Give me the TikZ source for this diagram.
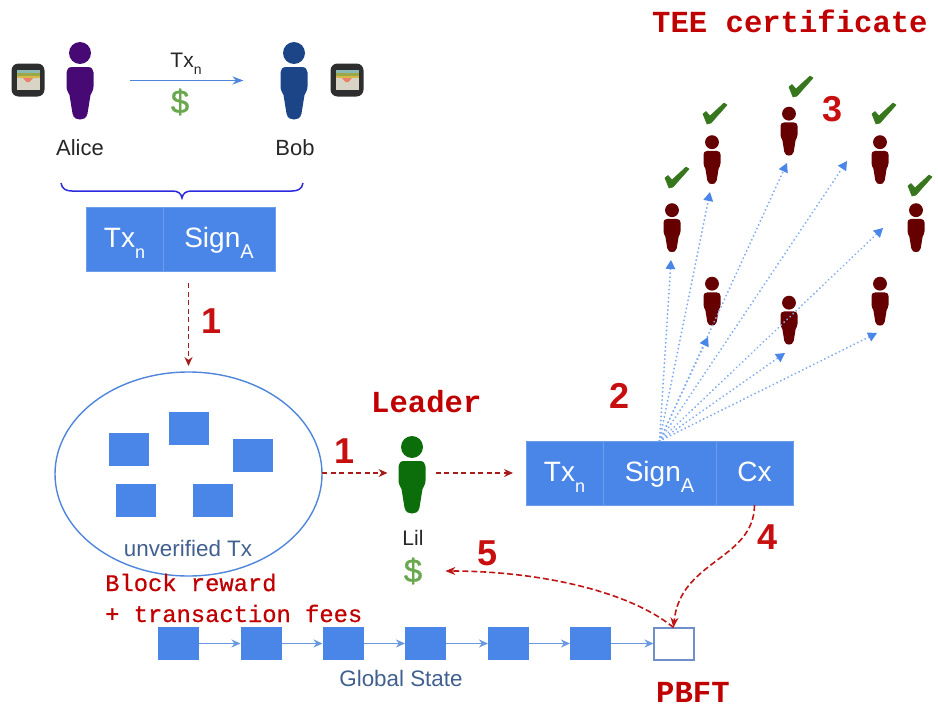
\documentclass[tikz,border=0pt]{standalone}
\usepackage{fontspec}
\setmainfont{Liberation Sans}
\setmonofont{Liberation Mono}
\newfontfamily\monosemi[FakeBold=0.6]{Liberation Mono}
\newfontfamily\sanssemi[FakeBold=0.8]{Liberation Sans}
\usetikzlibrary{arrows.meta,shapes.geometric}
\definecolor{boxblue}{HTML}{4A86E8}
\definecolor{cellline}{HTML}{6D9EEB}
\definecolor{linkblue}{HTML}{4F86DC}
\definecolor{greyblue}{HTML}{41608F}
\definecolor{redtext}{HTML}{C00000}
\definecolor{stepred}{HTML}{C80F0F}
\definecolor{dashred}{HTML}{A61C1C}
\definecolor{dollargreen}{HTML}{6AA84F}
\definecolor{tickgreen}{HTML}{38761D}
\definecolor{alicecol}{HTML}{470A75}
\definecolor{bobcol}{HTML}{1C4587}
\definecolor{lilcol}{HTML}{0B6E0B}
\definecolor{certcol}{HTML}{660000}
\definecolor{bracecol}{HTML}{2B2BDD}
\definecolor{walletframe}{HTML}{2E2E2E}
\definecolor{walletbeige}{HTML}{D9D5C6}
\definecolor{walletteal}{HTML}{8DB9B2}
\definecolor{walletgreen}{HTML}{9AA84A}
\definecolor{walletyellow}{HTML}{D8B84A}
\definecolor{walletred}{HTML}{E8806A}
\definecolor{openedge}{HTML}{6F8FC8}
\newcommand\fsz[1]{\fontsize{#1}{#1}\selectfont}
\newcommand\lowered[3]{\smash{\raisebox{-#2pt}{\fsz{#1}#3}}}
\newcommand\persona[5]{%
  \node[personbox,minimum width=#4*27pt,minimum height=#4*77pt] (#1) at (#2,#3) {};
  \begin{scope}[shift={(#2,#3)},scale=#4]
    \fill[#5] (0,-27.5) circle[radius=11];
    \fill[#5] (-8,-13.5) -- (8,-13.5) .. controls (11.5,-13.5) and (13.5,-11) .. (13.5,-8)
      -- (13.5,6) .. controls (13.5,10) and (11.5,12) .. (10.5,14.5)
      -- (7.5,33) .. controls (6.5,38) and (3,39) .. (0,39)
      .. controls (-3,39) and (-6.5,38) .. (-7.5,33)
      -- (-10.5,14.5) .. controls (-11.5,12) and (-13.5,10) .. (-13.5,6)
      -- (-13.5,-8) .. controls (-13.5,-11) and (-11.5,-13.5) .. (-8,-13.5) -- cycle;
  \end{scope}}
\newcommand\walleticon[3]{%
  \node[walletbox] (#1) at (#2,#3) {};
  \begin{scope}[shift={(#2,#3)}]
    \fill[walletbeige] (-11.5,-3) rectangle (11.5,10);
    \fill[walletteal] (-11.5,-10) rectangle (11.5,-7);
    \fill[walletgreen] (-11.5,-7) rectangle (11.5,-4.5);
    \fill[walletyellow] (-11.5,-4.5) rectangle (11.5,-2);
    \fill[walletred] (-5,-2) -- (5,-2) -- (1.5,2) -- (-1.5,2) -- cycle;
  \end{scope}}
\newcommand\tickmark[2]{%
  \begin{scope}[shift={(#1,#2)}]
    \filldraw[tickgreen,line width=.6pt,line join=round] (0,11) -- (3,8.5) -- (7,13) -- (21,0) -- (24,2) -- (8,20) -- (4,21) -- cycle;
  \end{scope}}
\tikzset{
  personbox/.style={inner sep=0pt,outer sep=0pt},
  walletbox/.style={fill=walletframe,rounded corners=7pt,minimum width=33pt,minimum height=33pt,inner sep=0pt,outer sep=0pt},
  cell/.style={fill=boxblue,draw=cellline,line width=.5pt,text=white,inner sep=0pt,outer sep=0pt,minimum height=64pt,text height=21pt,text depth=3.6pt,font=\fsz{28}},
  txsquare/.style={fill=boxblue,inner sep=0pt,outer sep=0pt,minimum width=40pt,minimum height=33pt},
  blocksquare/.style={fill=boxblue,inner sep=0pt,outer sep=0pt,minimum width=41pt,minimum height=33pt},
  openblock/.style={fill=white,draw=openedge,line width=2pt,inner sep=0pt,outer sep=0pt,minimum width=40pt,minimum height=32pt},
  pool/.style={ellipse,draw=linkblue,line width=1.4pt,inner sep=0pt,outer sep=0pt,minimum width=267pt,minimum height=204pt},
  grey label/.style={text=greyblue,font=\fsz{22.4},inner sep=0pt},
  black label/.style={text=black!85,font=\fsz{22},inner sep=0pt},
  stepnum/.style={text=stepred,font=\fsz{36}\bfseries,inner sep=0pt},
  dollar/.style={text=dollargreen,font=\fsz{33}\sanssemi,inner sep=0pt},
  monolabel/.style={text=redtext,font=\fsz{30.6}\ttfamily\bfseries,inner sep=0pt,anchor=base west},
  monosmall/.style={text=redtext,font=\fsz{23.8}\monosemi,inner sep=0pt,anchor=base west},
  reddash/.style={draw=dashred,line width=1.3pt,dash pattern=on 5pt off 3.5pt,-{Stealth[length=9pt,width=8pt]}},
  curvedash/.style={draw=dashred!70!red,line width=1.6pt,dash pattern=on 6pt off 3pt,-{Stealth[length=10pt,width=8pt]}},
  chain/.style={draw=linkblue!85!white,line width=1.8pt,-{Stealth[length=9pt,width=8pt]}},
  dots/.style={draw=boxblue!70!white,line width=2pt,line cap=round,dash pattern=on 0.1pt off 4pt,-{Triangle[length=9pt,width=10pt,color=boxblue,fill=boxblue,line width=0pt]}},
}
\begin{document}
\begin{tikzpicture}[x=1pt,y=-1pt]
\useasboundingbox (0,0) rectangle (938,712);
% Sender / receiver
\walleticon{walletA}{28}{80}
\walleticon{walletB}{347}{80}
\persona{alice}{80}{80.5}{1}{alicecol}
\persona{bob}{294}{80.5}{1}{bobcol}
\node[black label] (alicename) at (80,148) {Alice};
\node[black label] (bobname) at (295,148) {Bob};
\node[text=black!85,font=\fsz{21},inner sep=0pt,anchor=base] (txlabel) at (186,67) {Tx\lowered{14}{7}{n}};
\node[dollar] (paydollar) at (180,102) {\$};
\draw[draw=linkblue,line width=1.7pt,shorten <=36.5pt,shorten >=37pt,-{Stealth[length=11pt,width=8pt]}] (alice.east) -- (bob.west);
% Brace
\draw[bracecol,line width=1.5pt] (61,183) .. controls (62,189) and (66,191) .. (72,191) -- (172,191)
  .. controls (178,191) and (181,193) .. (182,198) .. controls (183,193) and (186,191) .. (192,191)
  -- (292,191) .. controls (298,191) and (302,189) .. (303,183);
% Top transaction
\node[cell,minimum width=77pt] (toptx) at (124.5,239) {Tx\lowered{18}{11}{n}};
\node[cell,minimum width=112pt] (topsign) at (219,239) {Sign\lowered{20}{11}{A}};
% Pool
\node[pool] (poolnode) at (188.5,474) {};
\node[txsquare] at (128.5,449.5) (t1) {};
\node[txsquare] at (188.5,428.5) (t2) {};
\node[txsquare] at (253,455) (t3) {};
\node[txsquare] at (136,500) (t4) {};
\node[txsquare] at (213,500) (t5) {};
\node[grey label] (pooltext) at (188,548) {unverified Tx};
% Leader
\persona{lil}{412}{474.5}{1}{lilcol}
\node[text=black!85,font=\fsz{21},inner sep=0pt] (lilname) at (413,538) {Lil};
\node[dollar] (lildollar) at (413,571) {\$};
% Main transaction
\node[cell,minimum width=77pt] (maintx) at (564.5,473) {Tx\lowered{18}{11}{n}};
\node[cell,minimum width=113pt] (mainsign) at (659.5,473) {Sign\lowered{20}{11}{A}};
\node[cell,minimum width=77pt] (maincx) at (754.5,473) {Cx};
% Chain
\node[blocksquare] (b1) at (178,643.5) {};
\node[blocksquare] (b2) at (261,643.5) {};
\node[blocksquare] (b3) at (343,643.5) {};
\node[blocksquare] (b4) at (425.5,643.5) {};
\node[blocksquare] (b5) at (508.5,643.5) {};
\node[blocksquare] (b6) at (590.5,643.5) {};
\node[openblock] (pbftblock) at (673.5,643.5) {};
\foreach \a/\b in {b1/b2,b2/b3,b3/b4,b4/b5,b5/b6,b6/pbftblock}
  \draw[chain] (\a.east) -- (\b.west);
\node[grey label] (globaltext) at (401,678) {Global State};
% Certifiers
\persona{c1}{672}{227.5}{.63}{certcol}
\persona{c2}{712}{159.5}{.63}{certcol}
\persona{c3}{789}{131}{.63}{certcol}
\persona{c4}{880}{159.5}{.63}{certcol}
\persona{c5}{916}{227.5}{.63}{certcol}
\persona{c6}{712}{301}{.63}{certcol}
\persona{c7}{789}{320}{.63}{certcol}
\persona{c8}{880}{301}{.63}{certcol}
\tickmark{665}{167}
\tickmark{703}{103}
\tickmark{789}{76}
\tickmark{872}{103}
\tickmark{908}{175}
% Dotted broadcast
\coordinate (e1) at (671,260);
\coordinate (e2) at (710,192);
\coordinate (e3) at (787,163);
\coordinate (e4) at (847,161);
\coordinate (e5) at (883,228);
\coordinate (e6) at (708,337);
\coordinate (e7) at (785,353);
\coordinate (e8) at (877,333);
\foreach \e in {e1,e2,e3,e4,e5,e6,e7,e8}
  \draw[dots] (mainsign.north) -- (\e);
% Red dashed connectors
\draw[reddash,shorten <=12pt,shorten >=6pt] (topsign.south -| poolnode.north) -- (poolnode.north);
\draw[reddash,shorten >=11pt] (poolnode.east |- maintx.west) -- (lil.west |- maintx.west);
\draw[reddash,shorten <=10pt,shorten >=13pt] (lil.east |- maintx.west) -- (maintx.west);
\draw[curvedash] (maincx.south) .. controls (754,560) and (680,560) .. (pbftblock.north);
\draw[curvedash,shorten >=23pt] (pbftblock.north) .. controls (625,588) and (530,571) .. (lildollar.east);
% Numbers
\node[stepnum] (n1a) at (212,321) {1};
\node[stepnum] (n1b) at (345,451) {1};
\node[stepnum] (n2) at (620,396) {2};
\node[stepnum] (n3) at (833,109) {3};
\node[stepnum] (n4) at (768,537) {4};
\node[stepnum] (n5) at (488,553) {5};
% Courier labels
\node[monolabel] (teelabel) at (652,32) {TEE certificate};
\node[monolabel] (leaderlabel) at (371,412) {Leader};
\node[monolabel] (pbftlabel) at (656,702) {PBFT};
\node[monosmall] (rewardlabel) at (105,591) {Block reward};
\node[monosmall] (feeslabel) at (105,622) {+ transaction fees};
\end{tikzpicture}
\end{document}
